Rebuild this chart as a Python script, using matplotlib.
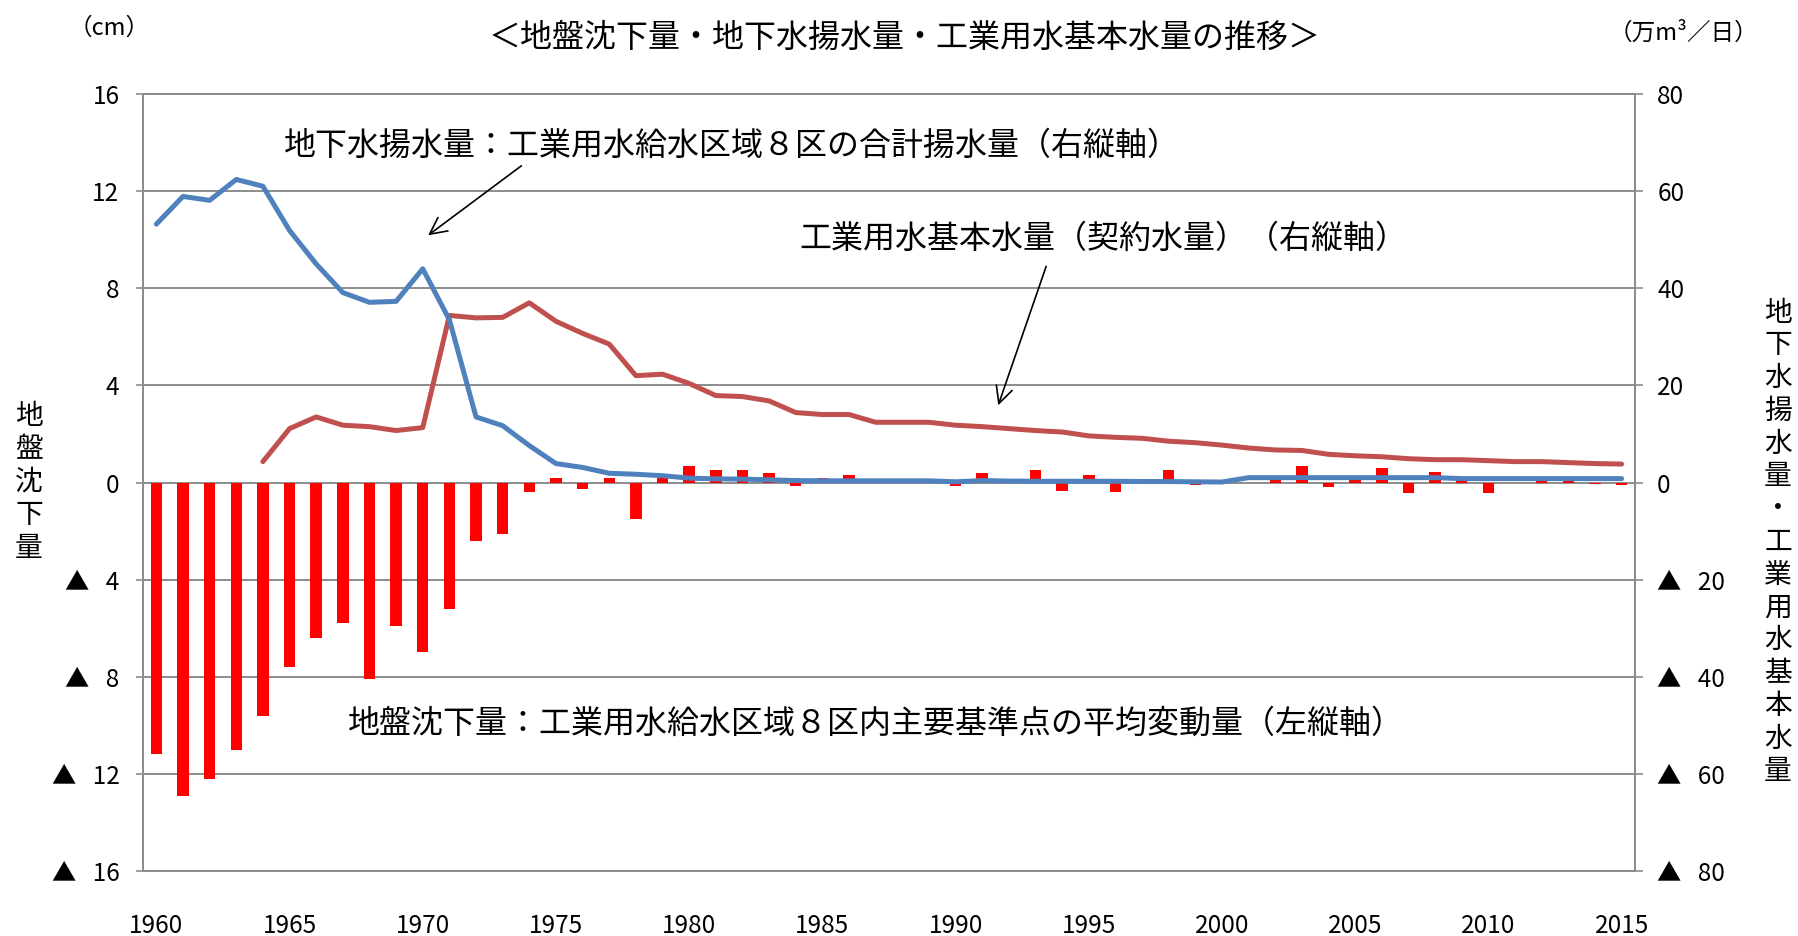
import numpy as np
import matplotlib
matplotlib.use("Agg")
import matplotlib.pyplot as plt

plt.rcParams['font.family'] = ['Noto Sans CJK JP', 'DejaVu Sans']

# data
years = np.arange(1960, 2016)

# ground subsidence (cm), left axis, negative = sinking
subsidence = [-11.2, -12.9, -12.2, -11.0, -9.6, -7.6, -6.4, -5.8, -8.1, -5.9,
              -7.0, -5.2, -2.4, -2.1, -0.4, 0.2, -0.25, 0.2, -1.5, 0.2,
              0.7, 0.5, 0.5, 0.4, -0.15, 0.2, 0.3, 0.0, 0.0, 0.0,
              -0.15, 0.4, 0.0, 0.5, -0.35, 0.3, -0.4, 0.0, 0.5, -0.1,
              0.0, 0.0, 0.1, 0.7, -0.2, 0.1, 0.6, -0.45, 0.45, 0.1,
              -0.45, 0.0, 0.05, 0.05, -0.05, -0.1]

# groundwater pumping (10^4 m3/day), right axis
pumping = [53.2, 58.9, 58.1, 62.4, 61.0, 51.9, 45.0, 39.1, 37.1, 37.3,
           44.0, 33.5, 13.5, 11.7, 7.6, 3.9, 3.1, 1.9, 1.7, 1.4,
           0.9, 0.75, 0.7, 0.55, 0.4, 0.35, 0.35, 0.35, 0.35, 0.35,
           0.15, 0.4, 0.3, 0.25, 0.25, 0.25, 0.25, 0.2, 0.2, 0.15,
           0.1, 1.0, 1.0, 1.0, 1.0, 1.0, 1.0, 1.0, 1.0, 0.8,
           0.8, 0.8, 0.8, 0.8, 0.8, 0.8]

# industrial water contract amount (10^4 m3/day), right axis, starts 1964
basic_water = [np.nan, np.nan, np.nan, np.nan, 4.3, 11.1, 13.5, 11.8, 11.5, 10.7,
               11.3, 34.4, 33.9, 34.0, 37.0, 33.2, 30.7, 28.5, 22.0, 22.3,
               20.4, 17.9, 17.7, 16.8, 14.4, 14.0, 14.0, 12.4, 12.4, 12.4,
               11.8, 11.5, 11.1, 10.7, 10.4, 9.6, 9.3, 9.1, 8.5, 8.2,
               7.7, 7.1, 6.7, 6.6, 5.8, 5.5, 5.3, 4.9, 4.7, 4.7,
               4.5, 4.3, 4.3, 4.1, 3.9, 3.8]

left_ticks = [-16, -12, -8, -4, 0, 4, 8, 12, 16]
left_labels = ['▲   16', '▲   12', '▲   8', '▲   4', '0', '4', '8', '12', '16']
right_ticks = [-80, -60, -40, -20, 0, 20, 40, 60, 80]
right_labels = ['▲   80', '▲   60', '▲   40', '▲   20', '0', '20', '40', '60', '80']
x_ticks = np.arange(1960, 2016, 5)

title = '＜地盤沈下量・地下水揚水量・工業用水基本水量の推移＞'
note_pump = '地下水揚水量：工業用水給水区域８区の合計揚水量（右縦軸）'
note_basic = '工業用水基本水量（契約水量）（右縦軸）'
note_sub = '地盤沈下量：工業用水給水区域８区内主要基準点の平均変動量（左縦軸）'

grey = '#8c8c8c'

fig = plt.figure(figsize=(17.99, 9.36), dpi=100)
ax = fig.add_axes([0.0795, 0.0694, 0.8293, 0.8302])
ax2 = ax.twinx()

ax.bar(years, subsidence, width=0.43, color='#ff0000', zorder=2)
ax.set_xlim(1959.5, 2015.5)
ax.set_ylim(-16, 16)
ax.set_yticks(left_ticks)
ax.set_yticklabels(left_labels)
ax.set_xticks(x_ticks)
ax.grid(axis='y', color=grey, lw=1.4)
ax.set_axisbelow(True)
ax.tick_params(axis='y', length=5, width=1.2, color=grey, pad=12, labelsize=17.5)
ax.tick_params(axis='x', length=0, pad=30, labelsize=17.5)

ax2.plot(years, basic_water, color='#c0504d', lw=3.6, solid_capstyle='round', zorder=3)
ax2.plot(years, pumping, color='#4f81bd', lw=3.6, solid_capstyle='round', zorder=4)
ax2.set_ylim(-80, 80)
ax2.set_yticks(right_ticks)
ax2.set_yticklabels(right_labels)
ax2.tick_params(axis='y', length=6, width=1.2, color=grey, pad=10, labelsize=17.5)

for a in (ax, ax2):
    for s in a.spines.values():
        s.set_color(grey)
        s.set_linewidth(1.4)

# annotations
ax2.text(1964.8, 69.3, note_pump, fontsize=23, va='center', ha='left')
ax2.text(1984.15, 50.1, note_basic, fontsize=23, va='center', ha='left')
ax2.text(1967.2, -49.7, note_sub, fontsize=23, va='center', ha='left')
arrow = dict(arrowstyle='->', lw=1.2, color='black', mutation_scale=30,
             shrinkA=0, shrinkB=0)
ax2.annotate('', xy=(1970.2, 50.9), xytext=(1973.7, 65.2), arrowprops=arrow)
ax2.annotate('', xy=(1991.6, 15.9), xytext=(1993.4, 44.5), arrowprops=arrow)

fig.text(0.503, 1 - 38 / 936, title, ha='center', va='center', fontsize=23)
fig.text(109 / 1799, 1 - 28 / 936, '（cm）', ha='center', va='center', fontsize=17)
fig.text(1683 / 1799, 1 - 33 / 936, '（万m³／日）', ha='center', va='center', fontsize=17)
fig.text(29 / 1799, 1 - 482 / 936, '\n'.join('地盤沈下量'), ha='center', va='center',
         fontsize=20, linespacing=1.12)
fig.text(1778 / 1799, 1 - 542 / 936, '\n'.join('地下水揚水量・工業用水基本水量'),
         ha='center', va='center', fontsize=20, linespacing=1.12)

fig.savefig('out.png', dpi=100)
